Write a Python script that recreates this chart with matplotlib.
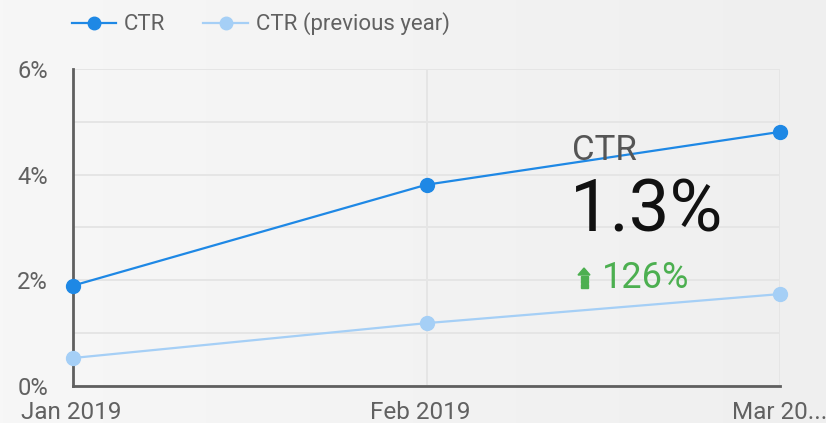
import matplotlib
matplotlib.use("Agg")
import matplotlib.pyplot as plt
import numpy as np
from matplotlib.lines import Line2D
import matplotlib.transforms as mtransforms

plt.rcParams['font.family'] = ['Roboto', 'DejaVu Sans']

months = ["Jan 2019", "Feb 2019", "Mar 20..."]
ctr = [1.9, 3.81, 4.81]
ctr_prev = [0.53, 1.19, 1.74]
ytick_labels = ["0%", "", "2%", "", "4%", "", "6%"]

blue = "#1e88e5"
light = "#a5cff6"
txt = "#616161"

fig = plt.figure(figsize=(8.26, 4.23), dpi=100)
bg = fig.add_axes([0, 0, 1, 1], zorder=-10)
grad = np.linspace(0, 1, 256).reshape(1, -1)
bg.imshow(grad, aspect='auto',
          cmap=matplotlib.colors.LinearSegmentedColormap.from_list('g', ['#f7f7f7', '#efefef']),
          extent=[0, 1, 0, 1])
bg.axis('off')

W, H = 826, 423
ax = fig.add_axes([73 / W, (H - 386) / H, (780 - 73) / W, (386 - 69) / H])
ax.patch.set_alpha(0)
x = np.arange(len(months))
ax.plot(x, ctr_prev, color=light, lw=1.6, marker='o', ms=10, zorder=3, clip_on=False)
ax.plot(x, ctr, color=blue, lw=1.6, marker='o', ms=10, zorder=4, clip_on=False)
ax.set_xlim(0, 2)
ax.set_ylim(0, 6)
ax.set_yticks(range(0, 7))
ax.set_yticklabels(ytick_labels)
ax.set_xticks(x)
ax.set_xticklabels(months)
ax.grid(True, color='#e5e5e5', lw=1.4)
ax.set_axisbelow(True)
for s in ['top', 'right']:
    ax.spines[s].set_visible(False)
for s in ['left', 'bottom']:
    ax.spines[s].set_color('#5f5f5f')
    ax.spines[s].set_linewidth(2)
ax.tick_params(length=0, labelsize=17, colors=txt)
ax.tick_params(axis='y', pad=18)
ax.tick_params(axis='x', pad=11, labelsize=17.5)

labs = ax.get_xticklabels()
labs[0].set_horizontalalignment('left')
labs[0].set_transform(labs[0].get_transform() + mtransforms.ScaledTranslation(-52 / 100, 0, fig.dpi_scale_trans))
labs[1].set_transform(labs[1].get_transform() + mtransforms.ScaledTranslation(-6 / 100, 0, fig.dpi_scale_trans))
labs[2].set_horizontalalignment('left')
labs[2].set_transform(labs[2].get_transform() + mtransforms.ScaledTranslation(-48 / 100, 0, fig.dpi_scale_trans))

# legend
handles = [Line2D([], [], color=blue, lw=1.6, marker='o', ms=9),
           Line2D([], [], color=light, lw=1.6, marker='o', ms=9)]
leg = fig.legend(handles, ["CTR", "CTR (previous year)"], loc='center left',
                 bbox_to_anchor=(52 / W, 1 - 24 / H), ncol=2, frameon=False,
                 fontsize=16, handlelength=2.0, columnspacing=1.7, handletextpad=0.35)
for t in leg.get_texts():
    t.set_color(txt)

# scorecard
fig.text(572 / W, 1 - 150 / H, "CTR", fontsize=25, color='#555555', va='center', ha='left')
fig.text(570 / W, 1 - 212 / H, "1.3%", fontsize=52, color='#111111', va='center', ha='left')
fig.text(602 / W, 1 - 278 / H, "126%", fontsize=26, color='#4caf50', va='center', ha='left')
green = '#4caf50'
arr = fig.add_axes([575 / W, 1 - 292 / H, 18 / W, 28 / H])
arr.axis('off')
arr.set_xlim(0, 18)
arr.set_ylim(0, 28)
arr.fill([3, 9, 15], [17, 24, 17], color=green)
arr.fill([5.5, 12.5, 12.5, 5.5], [13, 13, 16, 16], color=green)
arr.fill([5.5, 12.5, 12.5, 5.5], [9, 9, 12, 12], color=green)
arr.fill([5.5, 12.5, 12.5, 5.5], [4, 4, 8, 8], color=green)

fig.savefig("out.png", dpi=100)
